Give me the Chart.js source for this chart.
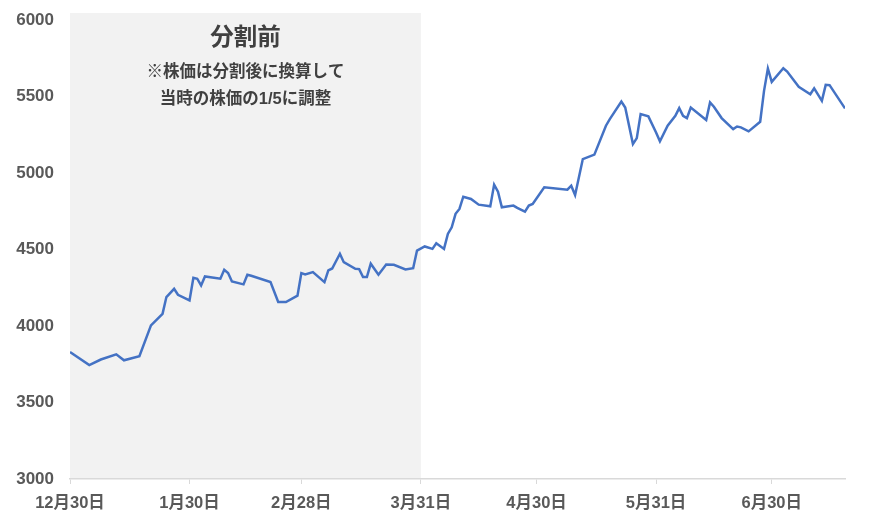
<!DOCTYPE html>
<html>
<head>
<meta charset="utf-8">
<script src="https://cdn.jsdelivr.net/npm/chart.js@4/dist/chart.umd.min.js"></script>
<style>
  html, body { margin: 0; padding: 0; background: #fff; }
  #wrap { width: 870px; height: 530px; }
</style>
</head>
<body>
<div id="wrap"><canvas id="chart"></canvas></div>
<script>
const startDate = "2020-12-30";

const dates = [
  "2020-12-30", "2021-01-04", "2021-01-07", "2021-01-11", "2021-01-13", "2021-01-17",
  "2021-01-20", "2021-01-23", "2021-01-24", "2021-01-26", "2021-01-27", "2021-01-30",
  "2021-01-31", "2021-02-01", "2021-02-02", "2021-02-03", "2021-02-07", "2021-02-08",
  "2021-02-09", "2021-02-10", "2021-02-13", "2021-02-14", "2021-02-15", "2021-02-20",
  "2021-02-22", "2021-02-24", "2021-02-27", "2021-02-28", "2021-03-01", "2021-03-03",
  "2021-03-06", "2021-03-07", "2021-03-08", "2021-03-10", "2021-03-11", "2021-03-14",
  "2021-03-15", "2021-03-16", "2021-03-17", "2021-03-18", "2021-03-20", "2021-03-22",
  "2021-03-24", "2021-03-27", "2021-03-29", "2021-03-30", "2021-04-01", "2021-04-03",
  "2021-04-04", "2021-04-06", "2021-04-07", "2021-04-08", "2021-04-09", "2021-04-10",
  "2021-04-11", "2021-04-13", "2021-04-15", "2021-04-18", "2021-04-19", "2021-04-20",
  "2021-04-21", "2021-04-24", "2021-04-25", "2021-04-27", "2021-04-28", "2021-04-29",
  "2021-05-02", "2021-05-08", "2021-05-09", "2021-05-10", "2021-05-12", "2021-05-15",
  "2021-05-18", "2021-05-19", "2021-05-22", "2021-05-23", "2021-05-25", "2021-05-26",
  "2021-05-27", "2021-05-29", "2021-05-31", "2021-06-01", "2021-06-03", "2021-06-05",
  "2021-06-06", "2021-06-07", "2021-06-08", "2021-06-09", "2021-06-13", "2021-06-14",
  "2021-06-15", "2021-06-17", "2021-06-20", "2021-06-21", "2021-06-22", "2021-06-24",
  "2021-06-27", "2021-06-28", "2021-06-29", "2021-06-30", "2021-07-03", "2021-07-04",
  "2021-07-07", "2021-07-10", "2021-07-11", "2021-07-13", "2021-07-14", "2021-07-15",
  "2021-07-19"
];

const prices = [
  3830, 3745, 3781, 3815, 3776, 3802,
  4004, 4080, 4189, 4243, 4204, 4167,
  4315, 4309, 4265, 4324, 4309, 4367,
  4346, 4291, 4272, 4335, 4328, 4287,
  4157, 4157, 4198, 4346, 4337, 4352,
  4287, 4363, 4376, 4472, 4417, 4374,
  4372, 4320, 4320, 4407, 4335, 4402,
  4400, 4370, 4378, 4493, 4520, 4504,
  4541, 4504, 4602, 4645, 4733, 4765,
  4845, 4830, 4793, 4782, 4924, 4878,
  4776, 4787, 4772, 4748, 4787, 4798,
  4907, 4891, 4917, 4856, 5091, 5120,
  5309, 5352, 5467, 5428, 5189, 5228,
  5385, 5370, 5265, 5207, 5309, 5374,
  5424, 5374, 5359, 5428, 5346, 5461,
  5433, 5359, 5287, 5304, 5298, 5272,
  5335, 5537, 5683, 5596, 5685, 5663,
  5563, 5515, 5554, 5472, 5576, 5574,
  5422
];

const tickDates = ["2020-12-30", "2021-01-30", "2021-02-28", "2021-03-31", "2021-04-30", "2021-05-31", "2021-06-30"];
const tickLabels = ["12月30日", "1月30日", "2月28日", "3月31日", "4月30日", "5月31日", "6月30日"];

const splitEnd = "2021-03-31";
const noteTitle = "分割前";
const noteLines = ["※株価は分割後に換算して", "当時の株価の1/5に調整"];

function dayOf(d) {
  return (Date.parse(d) - Date.parse(startDate)) / 864e5;
}

const points = dates.map((d, i) => ({x: dayOf(d), y: prices[i]}));
const tickDays = tickDates.map(dayOf);

const FONT = '"Liberation Sans", "Noto Sans CJK JP", sans-serif';

// grey box behind the pre-split period, with the note on top
const shadePlugin = {
  id: 'shade',
  beforeDraw(chart) {
    const {ctx, chartArea, scales: {x}} = chart;
    const left = x.getPixelForValue(0);
    const right = x.getPixelForValue(dayOf(splitEnd));
    ctx.save();
    ctx.fillStyle = '#f2f2f2';
    ctx.fillRect(left, chartArea.top - 7, right - left, chartArea.bottom - chartArea.top + 7);

    const cx = (left + right) / 2;
    ctx.fillStyle = '#404040';
    ctx.textAlign = 'center';
    ctx.textBaseline = 'middle';
    ctx.font = 'bold 23.5px ' + FONT;
    ctx.fillText(noteTitle, cx, chartArea.top + 19);
    ctx.font = 'bold 16.5px ' + FONT;
    ctx.fillText(noteLines[0], cx, chartArea.top + 52);
    ctx.fillText(noteLines[1], cx, chartArea.top + 79);
    ctx.restore();
  }
};

new Chart(document.getElementById('chart'), {
  type: 'line',
  data: {
    datasets: [{
      data: points,
      borderColor: '#4472c4',
      borderWidth: 2.5,
      pointRadius: 0,
      tension: 0,
      fill: false
    }]
  },
  options: {
    responsive: true,
    maintainAspectRatio: false,
    animation: false,
    layout: { padding: { top: 20, right: 25, left: 0, bottom: 0 } },
    plugins: { legend: { display: false }, tooltip: { enabled: false } },
    scales: {
      x: {
        type: 'linear',
        min: 0,
        max: dayOf(dates[dates.length - 1]),
        afterBuildTicks(scale) {
          scale.ticks = tickDays.map(v => ({value: v}));
        },
        afterFit(scale) { scale.height = 51; },
        ticks: {
          autoSkip: false,
          maxRotation: 0,
          padding: 10,
          color: '#595959',
          font: { family: FONT, size: 16.5, weight: 'bold' },
          callback: (v) => {
            const i = tickDays.indexOf(v);
            return i >= 0 ? tickLabels[i] : '';
          }
        },
        grid: { drawOnChartArea: false, color: '#d9d9d9', tickLength: 5 },
        border: { color: '#d9d9d9', width: 1.5 }
      },
      y: {
        min: 3000,
        max: 6000,
        afterFit(scale) { scale.width = 70; },
        ticks: {
          stepSize: 500,
          padding: 8,
          color: '#595959',
          font: { family: FONT, size: 17, weight: 'bold' },
          callback: (v) => String(v)
        },
        grid: { display: false },
        border: { display: false }
      }
    }
  },
  plugins: [shadePlugin]
});
</script>
</body>
</html>
